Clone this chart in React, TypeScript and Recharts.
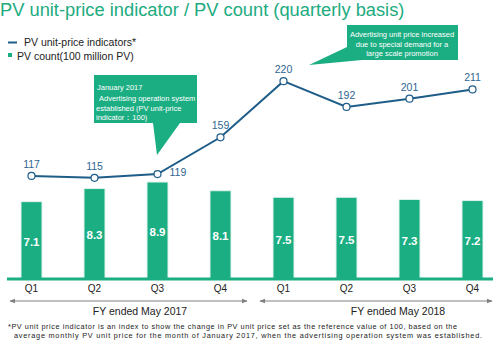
import { Bar, ComposedChart, LabelList, Line, XAxis, YAxis } from "recharts"

const periods = ["FY17-Q1", "FY17-Q2", "FY17-Q3", "FY17-Q4", "FY18-Q1", "FY18-Q2", "FY18-Q3", "FY18-Q4"]
const quarterLabels = ["Q1", "Q2", "Q3", "Q4", "Q1", "Q2", "Q3", "Q4"]
const unitPriceIndex = [117, 115, 119, 159, 220, 192, 201, 211]
const pvCount = [7.1, 8.3, 8.9, 8.1, 7.5, 7.5, 7.3, 7.2]
const fiscalYears = ["FY ended May 2017", "FY ended May 2018"]

const GREEN = "#1cae83"
const BLUE = "#1f5d89"
const LABEL_BLUE = "#2e6592"
const FONT = "'Liberation Sans', Arial, sans-serif"

const chartData = periods.map((period, i) => ({
  period,
  quarter: quarterLabels[i],
  price: unitPriceIndex[i],
  count: pvCount[i],
}))

function PriceLabel(props: any) {
  const { x, y, value, index } = props
  if (index === 2) {
    return (
      <text x={x + 12} y={y + 2} fontSize={10.5} fill={LABEL_BLUE} fontFamily={FONT}>
        {value}
      </text>
    )
  }
  return (
    <text x={x} y={y - 8} textAnchor="middle" fontSize={10.5} fill={LABEL_BLUE} fontFamily={FONT}>
      {value}
    </text>
  )
}

function CountLabel(props: any) {
  const { x, y, width, height, value } = props
  return (
    <text
      x={x + width / 2}
      y={y + height / 2 + 5.5}
      textAnchor="middle"
      fontSize={11.5}
      fontWeight="bold"
      fill="#ffffff"
      fontFamily={FONT}
    >
      {value}
    </text>
  )
}

function Overlay() {
  const footnote = [
    "*PV unit price indicator is an index to show the change in PV unit price set as the reference value of 100, based on the",
    "average monthly PV unit price for the month of January 2017, when the advertising operation system was established.",
  ]
  return (
    <svg
      width={498}
      height={350}
      style={{ position: "absolute", left: 0, top: 0, pointerEvents: "none" }}
      fontFamily={FONT}
    >
      <defs>
        <marker id="arr" viewBox="0 0 10 10" refX="9" refY="5" markerWidth="6" markerHeight="6" orient="auto-start-reverse">
          <path d="M0,1 L10,5 L0,9 z" fill="#7f7f7f" />
        </marker>
      </defs>
      <text x={0} y={16} fontSize={18.3} fill="#21ab80">
        PV unit-price indicator / PV count (quarterly basis)
      </text>

      {/* legend */}
      <line x1={8} x2={17} y1={42.5} y2={42.5} stroke={BLUE} strokeWidth={2} />
      <text x={24} y={46} fontSize={10.5} fill="#222">
        PV unit-price indicators*
      </text>
      <rect x={8} y={53} width={4} height={4} fill={GREEN} />
      <text x={17} y={59.5} fontSize={10.5} fill="#222">
        PV count(100 million PV)
      </text>

      {/* baseline */}
      <line x1={7} x2={493} y1={279} y2={279} stroke={GREEN} strokeWidth={3} />

      {/* fiscal year spans */}
      <line x1={10} x2={247} y1={301} y2={301} stroke="#7f7f7f" strokeWidth={1} markerStart="url(#arr)" markerEnd="url(#arr)" />
      <line x1={260} x2={492} y1={301} y2={301} stroke="#7f7f7f" strokeWidth={1} markerStart="url(#arr)" markerEnd="url(#arr)" />
      <text x={140} y={315} textAnchor="middle" fontSize={10.5} fill="#222">
        {fiscalYears[0]}
      </text>
      <text x={398} y={315} textAnchor="middle" fontSize={10.5} fill="#222">
        {fiscalYears[1]}
      </text>

      {/* callout 1 */}
      <path d="M94,75 H197 V123 H180 L157,155 L153,123 H94 Z" fill={GREEN} />
      <text fontSize={7.5} fill="#ffffff">
        <tspan x={97} y={90}>January 2017</tspan>
        <tspan x={99} y={101}>Advertising operation system</tspan>
        <tspan x={96} y={111}>established (PV unit-price</tspan>
        <tspan x={96} y={120}>indicator：100)</tspan>
      </text>

      {/* callout 2 */}
      <path d="M347,25 H458 V60 H362 L309,65 L347,47 Z" fill={GREEN} />
      <text fontSize={7.5} fill="#ffffff" textAnchor="middle">
        <tspan x={402} y={37}>Advertising unit price increased</tspan>
        <tspan x={402} y={47}>due to special demand for a</tspan>
        <tspan x={402} y={56}>large scale promotion</tspan>
      </text>

      {/* footnote */}
      <text x={8} y={329} fontSize={7.3} fill="#222" textLength={449} lengthAdjust="spacing">
        {footnote[0]}
      </text>
      <text x={14} y={338} fontSize={7.3} fill="#222" textLength={468} lengthAdjust="spacing">
        {footnote[1]}
      </text>
    </svg>
  )
}

export default function App() {
  return (
    <div
      style={{
        position: "absolute",
        left: 0,
        top: 0,
        width: 498,
        height: 350,
        overflow: "hidden",
        background: "#ffffff",
        fontFamily: FONT,
      }}
    >
      <ComposedChart width={504} height={350} data={chartData} margin={{ top: 60, right: 0, bottom: 51, left: 0 }}>
        <XAxis
          dataKey="period"
          height={20}
          axisLine={false}
          tickLine={false}
          tickSize={0}
          tickMargin={6}
          interval={0}
          tickFormatter={(_v: string, i: number) => quarterLabels[i]}
          tick={{ fontSize: 10, fill: "#222", fontFamily: FONT }}
        />
        <YAxis yAxisId="count" hide domain={[0, 20.1]} />
        <YAxis yAxisId="price" hide domain={[5, 243]} />
        <Bar
          yAxisId="count"
          dataKey="count"
          barSize={21}
          fill={GREEN}
          stroke="#dff3ec"
          strokeWidth={1}
          isAnimationActive={false}
        >
          <LabelList dataKey="count" content={CountLabel} />
        </Bar>
        <Line
          yAxisId="price"
          dataKey="price"
          stroke={BLUE}
          strokeWidth={2}
          dot={{ r: 3.5, fill: "#ffffff", stroke: BLUE, strokeWidth: 1.2 }}
          isAnimationActive={false}
        >
          <LabelList dataKey="price" content={PriceLabel} />
        </Line>
      </ComposedChart>
      <Overlay />
    </div>
  )
}
